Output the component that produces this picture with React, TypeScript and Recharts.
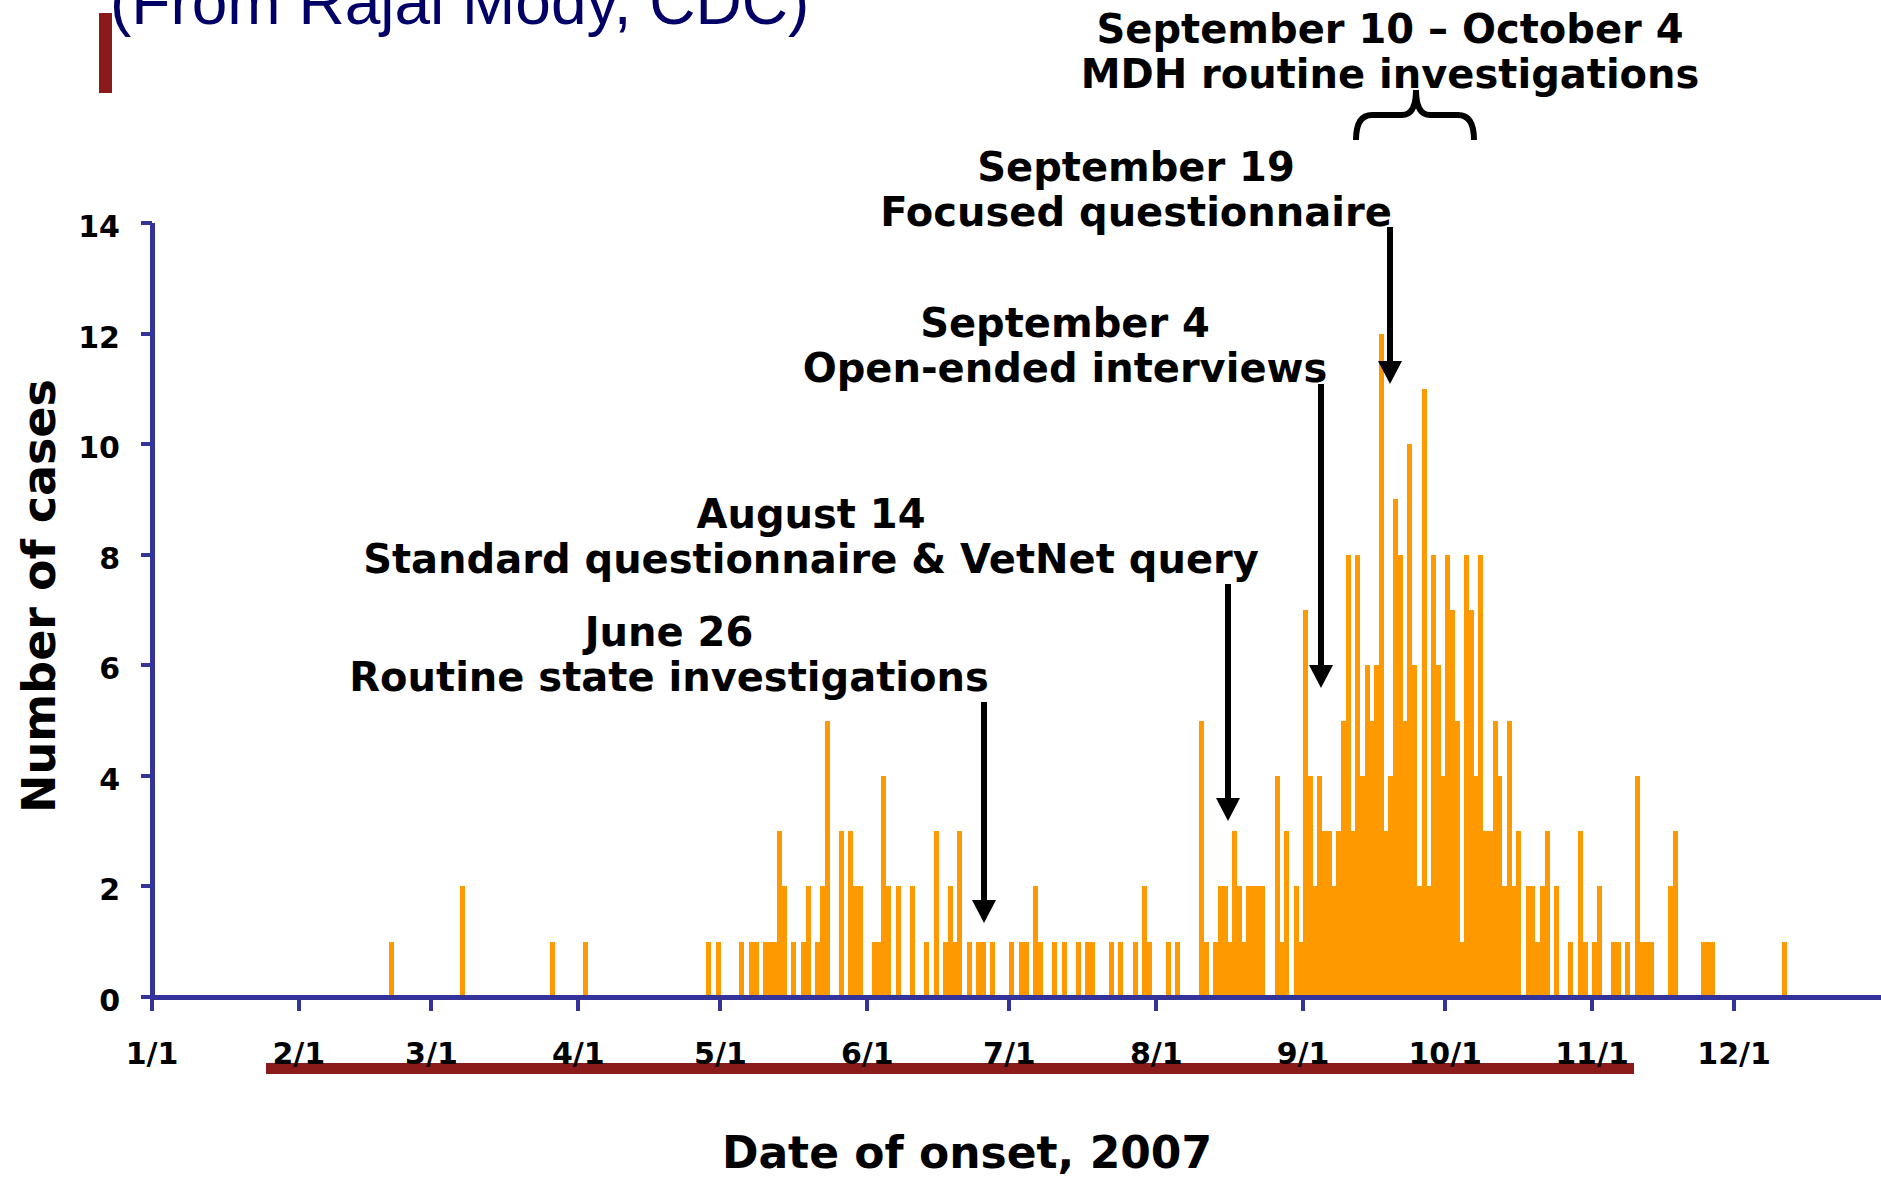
import React from 'react';
import { BarChart, Bar, XAxis, YAxis } from 'recharts';

// calendar of 2007 (not a leap year)
const MONTH_DAYS = [31, 28, 31, 30, 31, 30, 31, 31, 30, 31, 30, 31];
const MONTH_LABELS = ['1/1', '2/1', '3/1', '4/1', '5/1', '6/1', '7/1', '8/1', '9/1', '10/1', '11/1', '12/1'];
const Y_TICKS = [0, 2, 4, 6, 8, 10, 12, 14];

// days with at least one case (date of onset) and the number of cases that day
const ONSET_DATES = [
  '2/20', '3/7', '3/26', '4/2', '4/28', '4/30',
  '5/5', '5/7', '5/8', '5/10', '5/11', '5/12', '5/13', '5/14', '5/16', '5/18', '5/19', '5/21', '5/22', '5/23',
  '5/26', '5/28', '5/29', '5/30',
  '6/2', '6/3', '6/4', '6/5', '6/7', '6/10', '6/13', '6/15', '6/17', '6/18', '6/19', '6/20', '6/22', '6/24', '6/25', '6/27',
  '7/1', '7/3', '7/4', '7/6', '7/7', '7/10', '7/12', '7/15', '7/17', '7/18', '7/22', '7/24', '7/27', '7/29', '7/30',
  '8/3', '8/5', '8/10', '8/11', '8/13', '8/14', '8/15', '8/16', '8/17', '8/18', '8/19', '8/20', '8/21', '8/22', '8/23',
  '8/26', '8/27', '8/28', '8/30', '8/31',
  '9/1', '9/2', '9/3', '9/4', '9/5', '9/6', '9/7', '9/8', '9/9', '9/10', '9/11', '9/12', '9/13', '9/14', '9/15',
  '9/16', '9/17', '9/18', '9/19', '9/20', '9/21', '9/22', '9/23', '9/24', '9/25', '9/26', '9/27', '9/28', '9/29', '9/30',
  '10/1', '10/2', '10/3', '10/4', '10/5', '10/6', '10/7', '10/8', '10/9', '10/10', '10/11', '10/12', '10/13', '10/14',
  '10/15', '10/16', '10/18', '10/19', '10/20', '10/21', '10/22', '10/24', '10/27', '10/29', '10/30',
  '11/1', '11/2', '11/5', '11/6', '11/8', '11/10', '11/11', '11/12', '11/13', '11/17', '11/18', '11/24', '11/25', '11/26',
  '12/11',
];
const CASES = [
  1, 2, 1, 1, 1, 1,
  1, 1, 1, 1, 1, 1, 3, 2, 1, 1, 2, 1, 2, 5,
  3, 3, 2, 2,
  1, 1, 4, 2, 2, 2, 1, 3, 1, 2, 1, 3, 1, 1, 1, 1,
  1, 1, 1, 2, 1, 1, 1, 1, 1, 1, 1, 1, 1, 2, 1,
  1, 1, 5, 1, 1, 2, 2, 1, 3, 2, 1, 2, 2, 2, 2,
  4, 1, 3, 2, 1,
  7, 4, 2, 4, 3, 3, 2, 3, 5, 8, 3, 8, 4, 6, 5,
  6, 12, 3, 4, 9, 8, 5, 10, 6, 2, 11, 2, 8, 6, 4,
  8, 7, 5, 1, 8, 7, 4, 8, 3, 3, 5, 4, 2, 5,
  2, 3, 2, 2, 1, 2, 3, 2, 1, 3, 1,
  1, 2, 1, 1, 1, 4, 1, 1, 1, 2, 3, 1, 1, 1,
  1,
];

const dayOfYear = (md: string) => {
  const [m, d] = md.split('/').map(Number);
  let n = 0;
  for (let i = 0; i < m - 1; i++) n += MONTH_DAYS[i];
  return n + d - 1;
};

const MONTH_START = MONTH_LABELS.map(dayOfYear);
const byDay = new Map(ONSET_DATES.map((d, i) => [dayOfYear(d), CASES[i]]));
const DATA = Array.from({ length: 365 }, (_, i) => ({ day: i, cases: byDay.get(i) ?? 0 }));

const W = 1881;
const H = 1181;
const PLOT_LEFT = 152;
const PLOT_TOP = 223;
const PLOT_BOTTOM = 997;
const DAY_W = (W - PLOT_LEFT) / 365;

const NAVY = '#333399';
const ORANGE = '#FF9900';
const DARK_RED = '#8B1A1A';
const BOLD = { fontFamily: '"DejaVu Sans", sans-serif', fontWeight: 700 };

const MonthTick = (props: any) => {
  const { x, payload } = props;
  const idx = MONTH_START.indexOf(payload.value);
  if (idx < 0) return <g />;
  const bx = x - DAY_W / 2; // ticks sit on day boundaries
  return (
    <g>
      <line x1={bx} x2={bx} y1={PLOT_BOTTOM + 2} y2={PLOT_BOTTOM + 14} stroke={NAVY} strokeWidth={4} />
      <text x={bx} y={1064} textAnchor="middle" fontSize={30} fill="#000" style={BOLD}>
        {MONTH_LABELS[idx]}
      </text>
    </g>
  );
};

const CountTick = (props: any) => (
  <text x={120} y={props.y + 14} textAnchor="end" fontSize={30} fill="#000" style={BOLD}>
    {props.payload.value}
  </text>
);

const Arrow = ({ x, y1, y2 }: { x: number; y1: number; y2: number }) => (
  <g>
    <line x1={x} x2={x} y1={y1} y2={y2 - 18} stroke="#000" strokeWidth={6} />
    <polygon points={`${x - 12},${y2 - 23} ${x + 12},${y2 - 23} ${x},${y2}`} fill="#000" />
  </g>
);

const Note = ({ x, y, lines }: { x: number; y: number; lines: string[] }) => (
  <g>
    {lines.map((t, i) => (
      <text key={i} x={x} y={y + i * 45} textAnchor="middle" fontSize={40} fill="#000" style={BOLD}>
        {t}
      </text>
    ))}
  </g>
);

export default function App() {
  return (
    <div style={{ position: 'absolute', left: 0, top: 0, width: W, height: H, background: '#fff' }}>
      <svg width={W} height={H} style={{ position: 'absolute', left: 0, top: 0 }}>
        <rect x={266} y={1063} width={1368} height={11} fill={DARK_RED} />
      </svg>

      <div style={{ position: 'absolute', left: 0, top: 0 }}>
        <BarChart
          width={W}
          height={H}
          data={DATA}
          margin={{ top: PLOT_TOP, right: 0, bottom: 0, left: 0 }}
          barCategoryGap={0}
          style={{ shapeRendering: 'crispEdges' }}
        >
          <XAxis
            dataKey="day"
            type="category"
            interval={0}
            height={H - PLOT_BOTTOM}
            axisLine={{ stroke: NAVY, strokeWidth: 5 }}
            tickLine={false}
            tick={MonthTick}
          />
          <YAxis
            width={PLOT_LEFT}
            domain={[0, 14]}
            ticks={Y_TICKS}
            interval={0}
            axisLine={{ stroke: NAVY, strokeWidth: 5 }}
            tickLine={{ stroke: NAVY, strokeWidth: 4 }}
            tickSize={11}
            tick={CountTick}
          />
          <Bar dataKey="cases" fill={ORANGE} isAnimationActive={false} />
        </BarChart>
      </div>

      <svg width={W} height={H} style={{ position: 'absolute', left: 0, top: 0, pointerEvents: 'none' }}>
        {/* slide title, cut off at the top edge as in the source */}
        <text x={110} y={24} fontSize={64} fill="#000066" style={{ fontFamily: '"Liberation Sans", Arial, sans-serif' }}>
          (From Rajal Mody, CDC)
        </text>
        <rect x={99} y={13} width={13} height={80} fill={DARK_RED} />

        <text
          x={55}
          y={596}
          transform="rotate(-90 55 596)"
          textAnchor="middle"
          fontSize={46}
          fill="#000"
          style={BOLD}
        >
          Number of cases
        </text>
        <text x={967} y={1168} textAnchor="middle" fontSize={44} fill="#000" style={BOLD}>
          Date of onset, 2007
        </text>

        <Note x={1390} y={43} lines={['September 10 \u2013 October 4', 'MDH routine investigations']} />
        <path
          d="M1356,140 Q1356,115 1372,115 L1402,115 Q1416,115 1416,90 Q1416,115 1430,115 L1458,115 Q1474,115 1474,140"
          fill="none"
          stroke="#000"
          strokeWidth={6}
        />

        <Note x={1136} y={181} lines={['September 19', 'Focused questionnaire']} />
        <Arrow x={1390} y1={227} y2={384} />

        <Note x={1065} y={337} lines={['September 4', 'Open-ended interviews']} />
        <Arrow x={1321} y1={384} y2={688} />

        <Note x={811} y={528} lines={['August 14', 'Standard questionnaire & VetNet query']} />
        <Arrow x={1228} y1={584} y2={821} />

        <Note x={669} y={646} lines={['June 26', 'Routine state investigations']} />
        <Arrow x={984} y1={702} y2={923} />
      </svg>
    </div>
  );
}
